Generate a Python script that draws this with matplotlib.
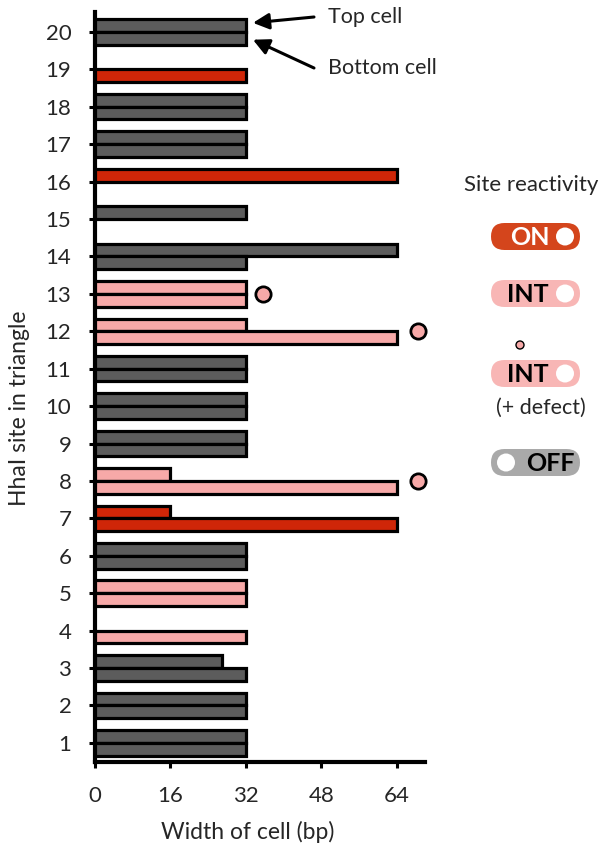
import matplotlib
matplotlib.use("Agg")
import matplotlib.pyplot as plt
from matplotlib.patches import FancyBboxPatch, Circle

plt.rcParams['font.family'] = ['Lato', 'DejaVu Sans']

# HhaI sites 1..20 with widths (bp) of the top and bottom cells; None = no cell
sites = list(range(1, 21))
top_width = [32, 32, 27, None, 32, 32, 16, 16, 32, 32,
             32, 32, 32, 64, 32, 64, 32, 32, None, 32]
bottom_width = [32, 32, 32, 32, 32, 32, 64, 64, 32, 32,
                32, 64, 32, 32, None, None, 32, 32, 32, 32]
reactivity = ['OFF', 'OFF', 'OFF', 'INT', 'INT', 'OFF', 'ON', 'INT', 'OFF', 'OFF',
              'OFF', 'INT', 'INT', 'OFF', 'OFF', 'ON', 'OFF', 'OFF', 'ON', 'OFF']

# sites with a defect marker and where the marker sits along the width axis
defect_sites = [13, 12, 8]
defect_x = [35.6, 68.6, 68.6]

x_ticks = [0, 16, 32, 48, 64]

colors = {'ON': '#cf2608', 'INT': '#f7a9a8', 'OFF': '#5c5c5c'}
pill_colors = {'ON': '#d4451c', 'INT': '#f8b6b5', 'OFF': '#a9a9a9'}
text_color = '#262626'

W, H = 602, 847
fig = plt.figure(figsize=(W / 100, H / 100), dpi=100)

ax = fig.add_axes([95 / W, 1 - 762 / H, 330 / W, 750 / H])
cell_h = 0.34
for s, tw, bw, r in zip(sites, top_width, bottom_width, reactivity):
    if tw is not None:
        ax.barh(s, tw, height=cell_h, align='edge', color=colors[r],
                edgecolor='black', linewidth=2.3, zorder=3)
    if bw is not None:
        ax.barh(s - cell_h, bw, height=cell_h, align='edge', color=colors[r],
                edgecolor='black', linewidth=2.3, zorder=3)

ax.plot(defect_x, defect_sites, 'o', ms=11, mfc=colors['INT'], mec='black',
        mew=2.0, ls='none', zorder=4, clip_on=False)

ax.set_xlim(0, 70)
ax.set_ylim(0.49, 20.53)
ax.set_xticks(x_ticks)
ax.set_yticks(sites)
ax.tick_params(axis='both', direction='out', length=4, width=2.2,
               labelsize=16, labelcolor=text_color, color='black')
ax.tick_params(axis='y', pad=13)
ax.tick_params(axis='x', pad=13)
for side in ('top', 'right'):
    ax.spines[side].set_visible(False)
for side in ('left', 'bottom'):
    ax.spines[side].set_linewidth(3.0)

fig.text(248 / W, 1 - 832 / H, 'Width of cell (bp)', ha='center', va='center',
         fontsize=16.5, color=text_color)
fig.text(20 / W, 1 - 408 / H, 'HhaI site in triangle', ha='center', va='center',
         rotation=90, fontsize=16.5, color=text_color)

# Cell labels with arrows
arrow = dict(arrowstyle='-|>', color='black', lw=2.2, mutation_scale=24,
             shrinkA=0, shrinkB=0)
ax.annotate('', xy=(33.5, 20.24), xycoords='data',
            xytext=(314, H - 17), textcoords='figure pixels', arrowprops=arrow)
ax.annotate('', xy=(33.5, 19.79), xycoords='data',
            xytext=(314, H - 68), textcoords='figure pixels', arrowprops=arrow)
fig.text(328 / W, 1 - 17 / H, 'Top cell', ha='left', va='center',
         fontsize=15.5, color=text_color)
fig.text(328 / W, 1 - 68 / H, 'Bottom cell', ha='left', va='center',
         fontsize=15.5, color=text_color)

# Legend panel drawn in pixel units
lg = fig.add_axes([0, 0, 1, 1])
lg.set_xlim(0, W)
lg.set_ylim(H, 0)
lg.axis('off')

lg.text(531, 185, 'Site reactivity', ha='center', va='center', fontsize=16,
        color=text_color)

pill_x, pill_w, pill_h = 491, 89, 27


def pill(y_top, state, label, knob_right, text_x, label_color):
    lg.add_patch(FancyBboxPatch((pill_x, y_top), pill_w, pill_h,
                                boxstyle=f"round,pad=0,rounding_size={pill_h / 2}",
                                fc=pill_colors[state], ec='none'))
    kx = pill_x + pill_w - 15 if knob_right else pill_x + 15
    lg.add_patch(Circle((kx, y_top + pill_h / 2), 9, fc='white', ec='none'))
    lg.text(text_x, y_top + pill_h / 2 + 1, label, ha='center', va='center',
            fontsize=18, fontweight='bold', color=label_color)


pill(223, 'ON', 'ON', True, 530, 'white')
pill(280, 'INT', 'INT', True, 528, 'black')
lg.add_patch(Circle((520, 345), 4, fc=colors['INT'], ec='black', lw=1.0))
pill(360, 'INT', 'INT', True, 528, 'black')
lg.text(541, 408, '(+ defect)', ha='center', va='center', fontsize=15.5,
        color=text_color)
pill(449, 'OFF', 'OFF', False, 550, 'black')

fig.savefig('out.png', dpi=100, facecolor='white')
